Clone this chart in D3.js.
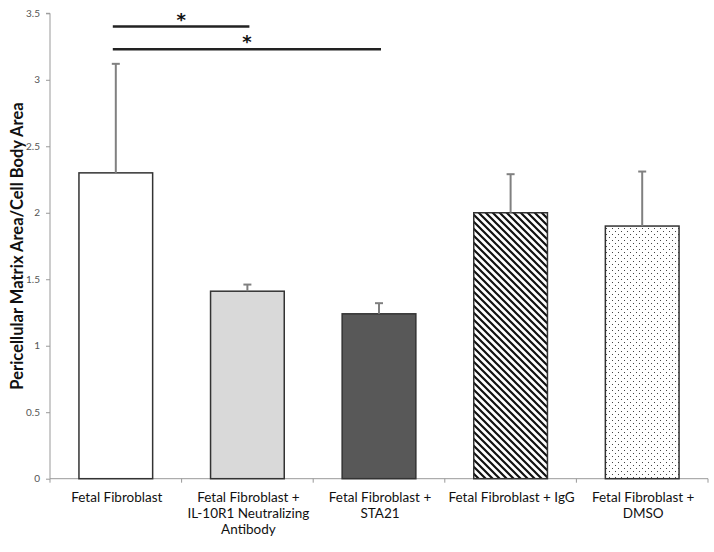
<!DOCTYPE html>
<html><head><meta charset="utf-8">
<script src="https://cdn.jsdelivr.net/npm/d3@7"></script>
<style>body{margin:0;background:#fff}svg{display:block}</style>
</head><body>
<svg id="c" width="714" height="552"></svg>
<script>
const categories = [
  ["Fetal Fibroblast"],
  ["Fetal Fibroblast +", "IL-10R1 Neutralizing", "Antibody"],
  ["Fetal Fibroblast +", "STA21"],
  ["Fetal Fibroblast + IgG"],
  ["Fetal Fibroblast +", "DMSO"]
];
const values = [2.30, 1.41, 1.24, 2.00, 1.90];
const errorTops = [3.12, 1.46, 1.32, 2.29, 2.31];
const fills = ["white", "solid2", "solid3", "hatch", "dots"];
const yTicks = [0, 0.5, 1, 1.5, 2, 2.5, 3, 3.5];
const sigBrackets = [{from: 0, to: 1, y: 3.40}, {from: 0, to: 2, y: 3.23}];

const svg = d3.select("#c");
const m = {l: 50, r: 6, t: 13, b: 73};
const W = 714, H = 552;
const x = d3.scaleBand().domain(d3.range(categories.length)).range([m.l, W - m.r]).paddingInner(0.44).paddingOuter(0.22);
const xb = d3.scaleBand().domain(d3.range(categories.length)).range([m.l, W - m.r]);
const y = d3.scaleLinear().domain([0, 3.5]).range([H - m.b - 0.3, m.t + 0.3]);

const defs = svg.append("defs");
const hp = defs.append("pattern").attr("id", "hatch").attr("patternUnits", "userSpaceOnUse")
  .attr("width", 7).attr("height", 7);
hp.append("rect").attr("width", 7).attr("height", 7).attr("fill", "white");
hp.append("path").attr("d", "M-1,-1 L8,8 M-8,-1 L1,8 M6,-1 L15,8").attr("stroke", "#111").attr("stroke-width", 2.2);
const dp = defs.append("pattern").attr("id", "dots").attr("patternUnits", "userSpaceOnUse")
  .attr("width", 6).attr("height", 6);
dp.append("rect").attr("width", 6).attr("height", 6).attr("fill", "white");
dp.append("rect").attr("x", 0).attr("y", 0).attr("width", 1).attr("height", 1).attr("fill", "#444");
dp.append("rect").attr("x", 3).attr("y", 3).attr("width", 1).attr("height", 1).attr("fill", "#444");
const fillOf = f => ({white: "#ffffff", solid2: "#d9d9d9", solid3: "#585858", hatch: "url(#hatch)", dots: "url(#dots)"})[f];

// y axis
const ya = svg.append("g").attr("transform", `translate(${m.l},0)`)
  .call(d3.axisLeft(y).tickValues(yTicks).tickSize(4).tickFormat(d3.format("")));
ya.select(".domain").attr("stroke", "#999").attr("d", `M-4,${y(3.5)}H0V${y(0)}`);
ya.selectAll(".tick line").attr("stroke", "#999");
ya.selectAll(".tick text").attr("fill", "#555").attr("font-family", "Lato, 'Open Sans', sans-serif").attr("font-size", 10).attr("x", -10);

// x axis
const xa = svg.append("g").attr("transform", `translate(0,${y(0)})`);
xa.append("line").attr("x1", m.l).attr("x2", W - m.r).attr("stroke", "#999");
xa.selectAll("line.t").data(d3.range(categories.length + 1)).join("line").attr("class", "t")
  .attr("x1", i => m.l + i * xb.step()).attr("x2", i => m.l + i * xb.step())
  .attr("y1", 0).attr("y2", 4).attr("stroke", "#999");

// bars
svg.append("g").selectAll("rect").data(values).join("rect")
  .attr("x", (d, i) => x(i)).attr("width", x.bandwidth())
  .attr("y", d => y(d)).attr("height", d => y(0) - y(d))
  .attr("fill", (d, i) => fillOf(fills[i]))
  .attr("stroke", "#333").attr("stroke-width", 1.5);

// error bars
const eg = svg.append("g").attr("stroke", "#808080").attr("stroke-width", 2);
values.forEach((v, i) => {
  const cx = x(i) + x.bandwidth() / 2;
  eg.append("line").attr("x1", cx).attr("x2", cx).attr("y1", y(v)).attr("y2", y(errorTops[i]));
  eg.append("line").attr("x1", cx - 4).attr("x2", cx + 4).attr("y1", y(errorTops[i])).attr("y2", y(errorTops[i]));
});

// significance
sigBrackets.forEach(s => {
  const x1 = xb(s.from) + xb.bandwidth() / 2 - 3, x2 = xb(s.to) + xb.bandwidth() / 2 + 2;
  svg.append("line").attr("x1", x1).attr("x2", x2).attr("y1", y(s.y)).attr("y2", y(s.y))
    .attr("stroke", "#222").attr("stroke-width", 2.5);
  svg.append("text").attr("x", (x1 + x2) / 2).attr("y", y(s.y) - 1).attr("text-anchor", "middle")
    .attr("font-family", "DejaVu Sans, sans-serif").attr("font-weight", "bold").attr("font-size", 18)
    .attr("fill", "#111").text("*");
});

// x labels
const lg = svg.append("g").attr("font-family", "Lato, 'Open Sans', sans-serif").attr("font-size", 13.5).attr("fill", "#111").attr("text-anchor", "middle");
categories.forEach((lines, i) => {
  const t = lg.append("text").attr("x", xb(i) + xb.bandwidth() / 2 + 1).attr("y", y(0) + 23);
  lines.forEach((l, j) => t.append("tspan").attr("x", xb(i) + xb.bandwidth() / 2 + 1).attr("dy", j === 0 ? 0 : 16).text(l));
});

// y title
svg.append("text").attr("transform", `translate(23,${(y(0) + y(3.5)) / 2}) rotate(-90)`)
  .attr("text-anchor", "middle").attr("font-family", "Lato, 'Open Sans', sans-serif").attr("font-weight", "bold")
  .attr("font-size", 16.5).attr("fill", "#111").text("Pericellular Matrix Area/Cell Body Area");
</script>
</body></html>
